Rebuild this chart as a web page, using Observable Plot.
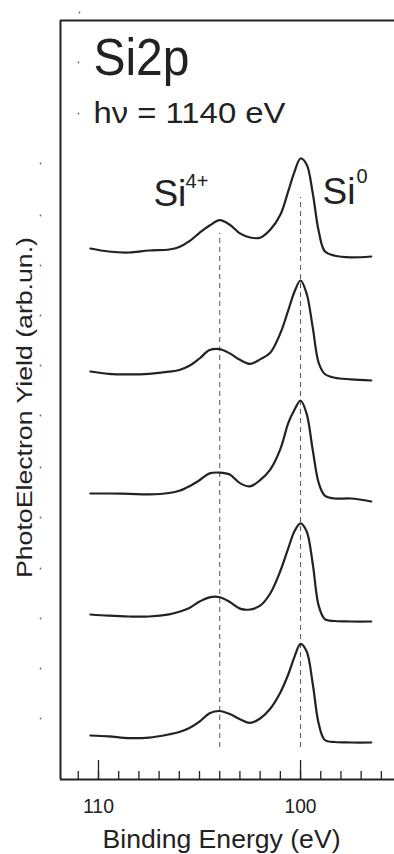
<!DOCTYPE html>
<html><head><meta charset="utf-8">
<script src="https://cdn.jsdelivr.net/npm/d3@7"></script>
<script src="https://cdn.jsdelivr.net/npm/@observablehq/plot@0.6"></script>
<style>html,body{margin:0;padding:0;background:#fff}#chart svg{display:block}</style>
</head><body><div id="chart"></div>
<script>
// Binding energy grid (eV) shared by all spectra
const energies = [110.4,109.5,108.5,107.5,106.5,106,105.5,105,104.5,104,103.5,103,102.5,102,101.5,101,100.6,100.3,100,99.7,99.4,99.1,98.8,98.3,97.5,96.5];
// Spectra, top to bottom (arb. units above each trace's own baseline)
const spectrum1 = [1,-2,-3,-1,0,2.5,8.3,16.7,24,29.3,24.7,16.1,12,11.8,19.7,34.7,58.8,77.7,91,85,56.8,18.2,-1.7,-6.3,-7.9,-7];
const spectrum2 = [1,-1.4,-1.9,-1.3,0.8,2.5,6.7,14,22.4,23.4,19.1,12.7,8.6,13.1,19.8,39.2,62.7,80.7,92,79,45.6,9.5,-1.5,-5.3,-6.8,-8];
const spectrum3 = [0,0,-0.3,-0.9,0.5,2.7,7.3,13.3,20.1,20.9,18.9,10.4,7.1,13.4,23.9,44.4,70.9,83.8,93,79.9,44,10.5,-2.1,-5,-5,-8];
const spectrum4 = [0,-1.2,-2,-2,0.2,2.8,6.6,12.9,17.2,17.3,12.5,5.9,5,8.8,21,43.5,66.7,83.3,91.1,83.2,51.3,8.6,-4.6,-6.5,-7,-7];
const spectrum5 = [0,-0.8,-2.6,-2.1,1.2,3.5,7.4,13.8,22.2,24.5,21.4,16.3,12.6,17,26.7,43,61.5,78.7,91.7,84.2,52.3,11.7,-4.5,-6.5,-7,-7];
const offsets = [530,407,286,165,44];
// Axis
const xDomain = [111.88, 95.35];
const yDomain = [0, 759];
const minorTicks = [111,110,109,108,107,106,105,104,103,102,101,100,99,98,97,96];
const majorTicks = [110,100];
const tickLabels = [110,100];
// Peak reference lines
const peakEnergies = [104,100];
const peakLineBottom = [32,32];
const peakLineTop = [546,582];
// Labels
const titleText = "Si2p";
const photonText = "hν = 1140 eV";
const xLabel = "Binding Energy (eV)";
const yLabel = "PhotoElectron Yield (arb.un.)";
const peakNames = ["Si","Si"];
const peakSups = ["4+","0"];
const peakNameX = [107.28, 98.91];
const peakNameY = [574, 576];
const peakSupX = [105.69, 97.23];
const peakSupY = [592, 597];
// small stray dots of the original scan
const dotX = [112.87,112.87,112.87,112.87,112.87,112.87,112.87,112.87,112.87,112.87,112.87,112.87,110.99,110.99,110.94];
const dotY = [616,564,514,464,414,364,312,262,211,161,111,61,717,666,767];

const spectra = [spectrum1,spectrum2,spectrum3,spectrum4,spectrum5];
const rows = spectra.flatMap((s,k)=> s.map((v,i)=>({series:k, energy:energies[i], value:v+offsets[k]})));
const peaks = peakEnergies.map((e,i)=>({energy:e, y1:peakLineBottom[i], y2:peakLineTop[i]}));
const names = peakNames.map((n,i)=>({t:n, x:peakNameX[i], y:peakNameY[i]}));
const sups = peakSups.map((n,i)=>({t:n, x:peakSupX[i], y:peakSupY[i]}));
const dots = dotX.map((x,i)=>({x, y:dotY[i]}));

const ink = "#222";
const chart = Plot.plot({
  width: 394, height: 854,
  marginLeft: 60, marginRight: 0, marginTop: 20, marginBottom: 75,
  style: {fontFamily: "Liberation Sans, Arial, sans-serif", background: "#fff", color: ink, overflow: "visible"},
  x: {domain: xDomain, axis: null},
  y: {domain: yDomain, axis: null},
  marks: [
    Plot.ruleX(peaks, {x: "energy", y1: "y1", y2: "y2", stroke: "#555", strokeWidth: 1, strokeDasharray: "5,4"}),
    Plot.line(rows, {x: "energy", y: "value", z: "series", stroke: ink, strokeWidth: 2.2, curve: "catmull-rom"}),
    Plot.ruleX([xDomain[0]], {stroke: ink, strokeWidth: 2}),
    Plot.ruleY([yDomain[0], yDomain[1]], {stroke: ink, strokeWidth: 2}),
    Plot.ruleX(minorTicks, {x: d=>d, y1: 0, y2: 8, stroke: ink, strokeWidth: 1.3}),
    Plot.ruleX(majorTicks, {x: d=>d, y1: 0, y2: 19, stroke: ink, strokeWidth: 1.3}),
    Plot.axisX({ticks: tickLabels, tickSize: 0, tickPadding: 19, fontSize: 20, label: null, tickFormat: d=>String(d)}),
    Plot.text([titleText], {x: 110.25, y: 705, text: d=>d, textAnchor: "start", lineAnchor: "bottom", fontSize: 52, fill: ink}),
    Plot.text([photonText], {x: 110.25, y: 657, text: d=>d, textAnchor: "start", lineAnchor: "bottom", fontSize: 30, fill: ink}),
    Plot.text(names, {x: "x", y: "y", text: "t", textAnchor: "start", lineAnchor: "bottom", fontSize: 37, fill: ink}),
    Plot.text(sups, {x: "x", y: "y", text: "t", textAnchor: "start", lineAnchor: "bottom", fontSize: 20, fill: ink}),
    Plot.text([xLabel], {frameAnchor: "bottom", dx: -6, dy: 68, text: d=>d, lineAnchor: "bottom", fontSize: 26, fill: ink}),
    Plot.text([yLabel], {frameAnchor: "left", dx: -29, dy: 178, rotate: -90, text: d=>d, textAnchor: "start", lineAnchor: "bottom", fontSize: 22, fill: ink}),
    Plot.dot(dots, {x: "x", y: "y", r: 0.9, fill: "#666", stroke: null})
  ]
});
document.getElementById("chart").appendChild(chart);
// fit text widths to the original (slightly condensed) lettering
const fit = {"Si2p": 96, "hν = 1140 eV": 192, "110": 31, "100": 32, "Binding Energy (eV)": 238, "PhotoElectron Yield (arb.un.)": 341};
d3.select(chart).selectAll("text").each(function(){
  const t = this.textContent;
  if (fit[t]) { this.setAttribute("textLength", fit[t]); this.setAttribute("lengthAdjust", "spacingAndGlyphs"); }
});
</script>
</body></html>
